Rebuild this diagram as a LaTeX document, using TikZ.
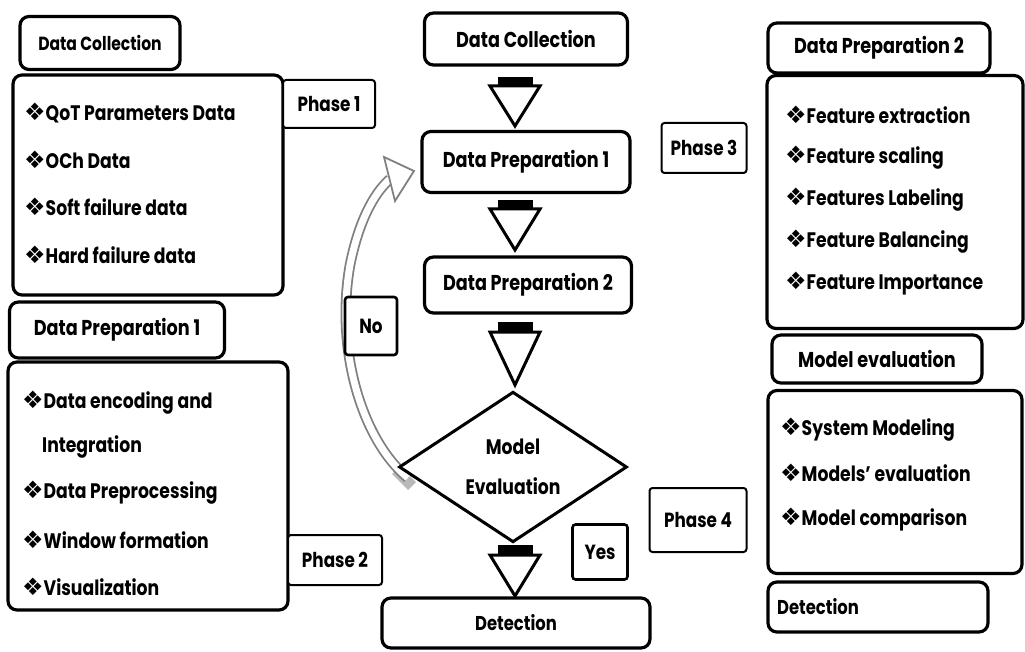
\documentclass[tikz,border=0pt]{standalone}
\usepackage{fontspec}
\setmainfont{Poppins}[FakeStretch=0.82]
\newfontfamily\djv{DejaVu Sans}
\usetikzlibrary{calc,shapes.geometric}
\newcommand{\bl}{{\djv\fontsize{24}{24}\selectfont ❖}}
\begin{document}
\begin{tikzpicture}[x=1pt,y=-1pt,
  box/.style={draw, line width=3.2pt, rounded corners=9pt, fill=white, inner sep=0pt},
  mainf/.style={font=\bfseries\fontsize{21.5}{24}\selectfont},
  headf/.style={font=\bfseries\fontsize{21.5}{24}\selectfont},
  phasebox/.style={draw, line width=2pt, rounded corners=3pt, fill=white, inner sep=0pt, font=\bfseries\fontsize{20.5}{24}\selectfont},
  item/.style={anchor=west, inner sep=0pt, font=\bfseries\fontsize{21}{24}\selectfont},
  bar/.style={fill=black},
  tri/.style={draw, line width=3pt, line join=miter, fill=white},
  band/.style={draw=black!50, line width=1.8pt, double=white, double distance=7pt},
]
\useasboundingbox (0,0) rectangle (1025,652);

% ---------- left column ----------
\node[box, font=\bfseries\fontsize{19}{22}\selectfont, minimum width=160, minimum height=53] (lh1) at (100,43) {Data Collection};
\node[box, minimum width=270, minimum height=220] (ll1) at (148,185) {};
\node[item] (a1) at (24,113) {\bl QoT Parameters Data};
\node[item] (a2) at (24,160) {\bl OCh Data};
\node[item] (a3) at (24,207) {\bl Soft failure data};
\node[item] (a4) at (24,255) {\bl Hard failure data};
\node[phasebox, minimum width=92, minimum height=48] (p1) at (329,104) {Phase 1};

\node[box, headf, minimum width=215, minimum height=56] (lh2) at (117,330) {Data Preparation 1};
\node[box, minimum width=280, minimum height=248] (ll2) at (148,486) {};
\node[item] (b1) at (22,403) {\bl Data encoding and};
\node[item] (b2) at (42,447) {Integration};
\node[item] (b3) at (22,493) {\bl Data Preprocessing};
\node[item] (b4) at (22,540) {\bl Window formation};
\node[item] (b5) at (22,587) {\bl Visualization};
\node[phasebox, minimum width=94, minimum height=50] (p2) at (335,560) {Phase 2};

% ---------- curved "No" arrow ----------
\coordinate (cs) at (408,478);
\coordinate (ce) at (390,179);
\draw[gray!55, line width=11pt] (412,486) -- (396,470);
\draw[band] (cs) .. controls (362,440) and (335,350) .. (350,265)
            .. controls (358,225) and (372,195) .. (ce);
\draw[draw=black!50, line width=1.8pt, fill=white, line join=miter]
  (384,157) -- (414,171) -- (395,201) -- cycle;
\node[phasebox, line width=2.6pt, minimum width=52, minimum height=58] (no) at (371,326) {No};

% ---------- center column ----------
\node[box, mainf, minimum width=203, minimum height=52] (dc) at (526,39) {Data Collection};
\node[box, mainf, minimum width=208, minimum height=61] (dp1) at (526,162) {Data Preparation 1};
\node[box, mainf, minimum width=207, minimum height=56] (dp2) at (528,285) {Data Preparation 2};
\node[diamond, draw, line width=3pt, fill=white, inner sep=0pt, minimum width=228, minimum height=147,
      align=center, font=\bfseries\fontsize{21}{40}\selectfont] (me) at (513,467) {Model\\Evaluation};
\node[box, font=\bfseries\fontsize{20}{24}\selectfont, minimum width=268, minimum height=50] (det) at (516,623) {Detection};
\node[phasebox, line width=2.6pt, minimum width=55, minimum height=55] (yes) at (600,552) {Yes};

% flow arrows
\coordinate (t1) at (515,126);
\coordinate (t2) at (515,250);
\coordinate (t3) at (515,385);
\coordinate (t4) at (515,596);
\fill[bar] (498,77) rectangle (533,88);
\draw[tri] (490,86) -- (540,86) -- (t1) -- cycle;
\fill[bar] (498,200) rectangle (533,211);
\draw[tri] (490,209) -- (540,209) -- (t2) -- cycle;
\fill[bar] (498,322) rectangle (533,333);
\draw[tri] (490,332) -- (540,332) -- (t3) -- cycle;
\fill[bar] (498,545) rectangle (533,556);
\draw[tri] (490,555) -- (540,555) -- (t4) -- cycle;

% ---------- right column ----------
\node[phasebox, minimum width=85, minimum height=50] (p3) at (704,148) {Phase 3};
\node[phasebox, minimum width=97, minimum height=64] (p4) at (698,520) {Phase 4};

\node[box, headf, minimum width=222, minimum height=50] (rh1) at (879,48) {Data Preparation 2};
\node[box, minimum width=256, minimum height=253] (rl1) at (895,202) {};
\node[item] (c1) at (785,115) {\bl Feature extraction};
\node[item] (c2) at (785,158) {\bl Feature scaling};
\node[item] (c3) at (785,200) {\bl Features Labeling};
\node[item] (c4) at (785,242) {\bl Feature Balancing};
\node[item] (c5) at (785,284) {\bl Feature Importance};

\node[box, headf, minimum width=210, minimum height=48] (rh2) at (877,359) {Model evaluation};
\node[box, minimum width=254, minimum height=183] (rl2) at (895,482) {};
\node[item] (d1) at (780,430) {\bl System Modeling};
\node[item] (d2) at (780,473) {\bl Models' evaluation};
\node[item] (d3) at (780,520) {\bl Model comparison};

\node[box, minimum width=220, minimum height=50] (rd) at (878,607) {};
\node[item, font=\bfseries\fontsize{20}{24}\selectfont, anchor=west] (rdt) at (777,607) {Detection};
\end{tikzpicture}
\end{document}
